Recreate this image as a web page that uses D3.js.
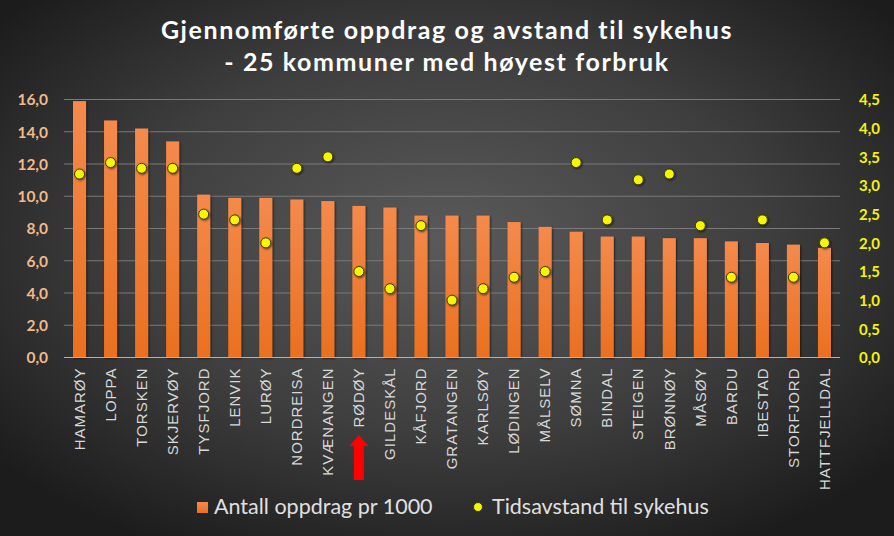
<!DOCTYPE html>
<html><head><meta charset="utf-8">
<script src="https://cdn.jsdelivr.net/npm/d3@7/dist/d3.min.js"></script>
<style>html,body{margin:0;padding:0;background:#222;}svg{display:block;}</style>
</head><body>
<svg id="chart" width="894" height="536"></svg>
<script>
const categories = ["HAMARØY","LOPPA","TORSKEN","SKJERVØY","TYSFJORD","LENVIK","LURØY","NORDREISA","KVÆNANGEN","RØDØY","GILDESKÅL","KÅFJORD","GRATANGEN","KARLSØY","LØDINGEN","MÅLSELV","SØMNA","BINDAL","STEIGEN","BRØNNØY","MÅSØY","BARDU","IBESTAD","STORFJORD","HATTFJELLDAL"];
const oppdrag = [15.9,14.7,14.2,13.4,10.1,9.9,9.9,9.8,9.7,9.4,9.3,8.8,8.8,8.8,8.4,8.1,7.8,7.5,7.5,7.4,7.4,7.2,7.1,7.0,6.8];
const tidsavstand = [3.2,3.4,3.3,3.3,2.5,2.4,2.0,3.3,3.5,1.5,1.2,2.3,1.0,1.2,1.4,1.5,3.4,2.4,3.1,3.2,2.3,1.4,2.4,1.4,2.0];
const leftTicks = [0,2,4,6,8,10,12,14,16];
const rightTicks = [0,0.5,1,1.5,2,2.5,3,3.5,4,4.5];
const titleLines = ["Gjennomførte oppdrag og avstand til sykehus","- 25 kommuner med høyest forbruk"];
const legendLabels = ["Antall oppdrag pr 1000","Tidsavstand til sykehus"];
const highlight = "RØDØY";

const W = 894, H = 536;
const m = {left:64, right:54, top:99.5, bottom:178.5};
const svg = d3.select("#chart");
const defs = svg.append("defs");

const bg = defs.append("radialGradient").attr("id","bg").attr("cx","50%").attr("cy","45%").attr("r","65%");
bg.append("stop").attr("offset","0%").attr("stop-color","#5a5a5a");
bg.append("stop").attr("offset","55%").attr("stop-color","#3e3e3e");
bg.append("stop").attr("offset","100%").attr("stop-color","#1c1c1c");
svg.append("rect").attr("width",W).attr("height",H).attr("fill","url(#bg)");

const bargrad = defs.append("linearGradient").attr("id","bar").attr("x1",0).attr("y1",0).attr("x2",0).attr("y2",1);
bargrad.append("stop").attr("offset","0%").attr("stop-color","#f48a4c");
bargrad.append("stop").attr("offset","100%").attr("stop-color","#ea7020");

const shadow = defs.append("filter").attr("id","sh").attr("x","-50%").attr("y","-50%").attr("width","200%").attr("height","200%");
shadow.append("feDropShadow").attr("dx",1).attr("dy",1).attr("stdDeviation",1.2).attr("flood-color","#000").attr("flood-opacity",0.6);

const x = d3.scaleBand().domain(categories).range([m.left, W - 54]).paddingInner(0.58).paddingOuter(0.29);
const y = d3.scaleLinear().domain([0,16]).range([H - m.bottom, m.top]);
const y2 = d3.scaleLinear().domain([0,4.5]).range([H - m.bottom, m.top]);

// title
svg.append("g").selectAll("text").data(titleLines).join("text")
  .attr("x", W/2).attr("y",(d,i)=>39 + i*32)
  .attr("text-anchor","middle")
  .attr("fill","#ffffff")
  .style("font-family","Lato, 'Open Sans', sans-serif")
  .style("font-weight","bold").style("font-size","25px")
  .style("letter-spacing","1.6px")
  .text(d=>d);

// gridlines
svg.append("g").selectAll("line").data(leftTicks.filter(d=>d>0)).join("line")
  .attr("x1",m.left).attr("x2",W-54)
  .attr("y1",d=>y(d)).attr("y2",d=>y(d))
  .attr("stroke","#7a7a7a").attr("stroke-width",1);

// left axis
const yAxis = d3.axisLeft(y).tickValues(leftTicks).tickSize(0).tickPadding(0)
  .tickFormat(d=>d3.format(".1f")(d).replace(".",","));
const gl = svg.append("g").attr("transform",`translate(${m.left-16},0)`).call(yAxis);
gl.select(".domain").remove();
gl.selectAll("text").attr("fill","#f2b98a").style("font-family","Lato, sans-serif")
  .style("font-weight","bold").style("font-size","15.5px").attr("dy","0.35em");

// right axis
const yAxis2 = d3.axisRight(y2).tickValues(rightTicks).tickSize(0).tickPadding(0)
  .tickFormat(d=>d3.format(".1f")(d).replace(".",","));
const gr = svg.append("g").attr("transform",`translate(${W-35},0)`).call(yAxis2);
gr.select(".domain").remove();
gr.selectAll("text").attr("fill","#f4f40a").style("font-family","Lato, sans-serif")
  .style("font-weight","bold").style("font-size","15px").attr("dy","0.35em");

// bars
svg.append("g").selectAll("rect").data(categories).join("rect")
  .attr("x",d=>x(d)).attr("width",x.bandwidth())
  .attr("y",(d,i)=>y(oppdrag[i])).attr("height",(d,i)=>y(0)-y(oppdrag[i]))
  .attr("fill","url(#bar)").attr("filter","url(#sh)");

// baseline
svg.append("line").attr("x1",m.left).attr("x2",W-54).attr("y1",y(0)).attr("y2",y(0))
  .attr("stroke","#b0b0b0").attr("stroke-width",1);

// x labels
const xAxis = d3.axisBottom(x).tickSize(0).tickPadding(0);
const gx = svg.append("g").attr("transform",`translate(0,${y(0)})`).call(xAxis);
gx.select(".domain").remove();
gx.selectAll("text")
  .attr("transform","rotate(-90)")
  .attr("x",-10).attr("y",0).attr("dy","0.35em")
  .attr("text-anchor","end")
  .attr("fill","#d8d8d8")
  .style("font-family","'Liberation Sans', Arial, sans-serif")
  .style("font-size","15px")
  .style("letter-spacing","1px");

// dots
svg.append("g").selectAll("circle").data(categories).join("circle")
  .attr("cx",d=>x(d)+x.bandwidth()/2)
  .attr("cy",(d,i)=>y2(tidsavstand[i]))
  .attr("r",5)
  .attr("fill","#f6f600").attr("stroke","#3a3a10").attr("stroke-width",1)
  .attr("filter","url(#sh)");

// red arrow under highlight
const ax = x(highlight) + x.bandwidth()/2;
const arrow = d3.path();
arrow.moveTo(ax, 435); arrow.lineTo(ax+9.5, 446); arrow.lineTo(ax+5, 446); arrow.lineTo(ax+5, 480);
arrow.lineTo(ax-5, 480); arrow.lineTo(ax-5, 446); arrow.lineTo(ax-9.5, 446); arrow.closePath();
svg.append("path").attr("d",arrow.toString()).attr("fill","#ff0000");

// legend
const lg = svg.append("g");
lg.append("rect").attr("x",197).attr("y",502).attr("width",11).attr("height",11).attr("fill","url(#bar)");
lg.append("text").attr("x",214).attr("y",514).text(legendLabels[0]);
lg.append("circle").attr("cx",478).attr("cy",507).attr("r",4.5).attr("fill","#f6f600").attr("stroke","#3a3a10");
lg.append("text").attr("x",492).attr("y",514).text(legendLabels[1]);
lg.selectAll("text").attr("fill","#e0e0e0").style("font-family","Lato, 'Open Sans', sans-serif").style("font-size","21.5px");
</script>
</body></html>
